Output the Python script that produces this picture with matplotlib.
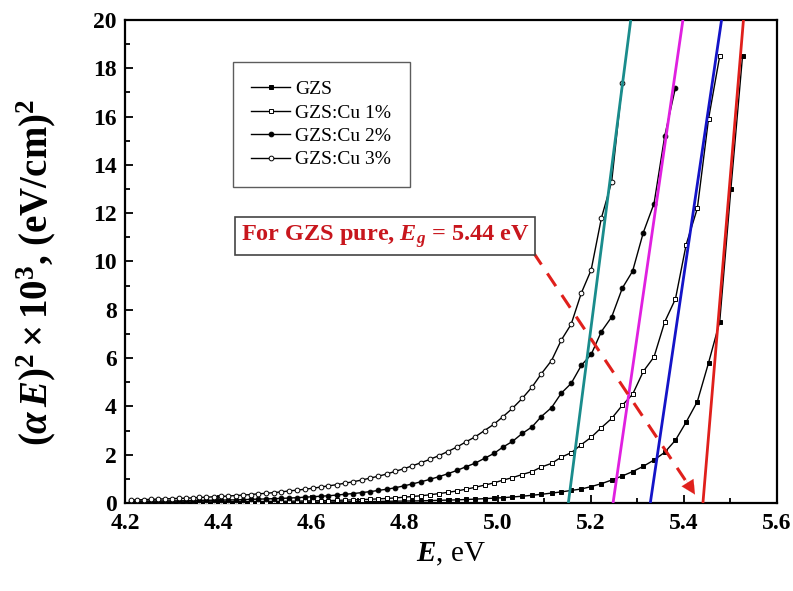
import matplotlib
matplotlib.use('Agg')
import matplotlib.pyplot as plt
from matplotlib.ticker import MultipleLocator, FormatStrFormatter

plt.rcParams['font.family'] = ['Liberation Serif', 'DejaVu Serif']
plt.rcParams['mathtext.fontset'] = 'custom'
plt.rcParams['mathtext.rm'] = 'Liberation Serif:bold'
plt.rcParams['mathtext.it'] = 'Liberation Serif:italic:bold'
plt.rcParams['mathtext.bf'] = 'Liberation Serif:bold'

# ---- data (photon energy grid, eV) ----
energy = [5.526, 5.501, 5.477, 5.453, 5.429, 5.405, 5.382, 5.359, 5.336, 5.313,
          5.290, 5.268, 5.245, 5.223, 5.201, 5.180, 5.158, 5.137, 5.116, 5.094,
          5.074, 5.053, 5.032, 5.012, 4.992, 4.972, 4.952, 4.932, 4.913, 4.893,
          4.874, 4.855, 4.836, 4.817, 4.799, 4.780, 4.762, 4.744, 4.726, 4.708,
          4.690, 4.672, 4.655, 4.637, 4.620, 4.603, 4.586, 4.569, 4.552, 4.536,
          4.519, 4.503, 4.486, 4.470, 4.454, 4.438, 4.422, 4.407, 4.391, 4.375,
          4.360, 4.345, 4.330, 4.315, 4.300, 4.285, 4.270, 4.255, 4.241, 4.226,
          4.212]

gzs = [18.5, 13.0, 7.5, 5.8, 4.2, 3.35, 2.6, 2.1, 1.78, 1.52,
       1.30, 1.12, 0.95, 0.80, 0.68, 0.58, 0.52, 0.46, 0.41, 0.36,
       0.32, 0.28, 0.25, 0.22, 0.20, 0.18, 0.16, 0.145, 0.13, 0.12,
       0.11, 0.10, 0.09, 0.085, 0.08, 0.075, 0.07, 0.065, 0.06, 0.056,
       0.052, 0.049, 0.046, 0.043, 0.04, 0.038, 0.036, 0.034, 0.032, 0.030,
       0.028, 0.026, 0.025, 0.024, 0.023, 0.022, 0.021, 0.020, 0.019, 0.018,
       0.017, 0.016, 0.015, 0.015, 0.014, 0.014, 0.013, 0.013, 0.012, 0.012,
       0.011]

cu1 = [18.5, 15.9, 12.2, 10.7, 8.45, 7.5, 6.05, 5.45,
       4.5, 4.05, 3.5, 3.12, 2.72, 2.42, 2.08, 1.90, 1.64, 1.49,
       1.30, 1.18, 1.05, 0.95, 0.83, 0.74, 0.65, 0.57, 0.50, 0.44,
       0.39, 0.34, 0.30, 0.27, 0.24, 0.21, 0.19, 0.17, 0.155, 0.14,
       0.13, 0.12, 0.11, 0.10, 0.095, 0.09, 0.085, 0.08, 0.075, 0.07,
       0.066, 0.062, 0.06, 0.058, 0.056, 0.054, 0.052, 0.05, 0.049, 0.048,
       0.047, 0.046, 0.045, 0.045, 0.044, 0.043, 0.042, 0.041, 0.041, 0.040,
       0.040]

cu2 = [17.2, 15.2, 12.4, 11.2,
       9.6, 8.9, 7.7, 7.1, 6.15, 5.7, 4.95, 4.55, 3.95, 3.58,
       3.15, 2.88, 2.55, 2.32, 2.05, 1.85, 1.65, 1.50, 1.35, 1.21,
       1.09, 0.98, 0.88, 0.79, 0.71, 0.63, 0.57, 0.52, 0.47, 0.43,
       0.39, 0.36, 0.33, 0.30, 0.28, 0.26, 0.24, 0.22, 0.205, 0.19,
       0.18, 0.17, 0.16, 0.15, 0.14, 0.13, 0.125, 0.12, 0.115, 0.11,
       0.105, 0.10, 0.095, 0.09, 0.088, 0.085, 0.083, 0.08, 0.078, 0.076,
       0.075]

cu3 = [17.4, 13.3, 11.8, 9.65, 8.7, 7.4, 6.75, 5.9, 5.35,
       4.8, 4.33, 3.92, 3.58, 3.26, 3.0, 2.74, 2.53, 2.32, 2.13,
       1.96, 1.81, 1.67, 1.54, 1.42, 1.31, 1.20, 1.11, 1.03, 0.95,
       0.88, 0.82, 0.76, 0.71, 0.66, 0.61, 0.57, 0.53, 0.50, 0.46,
       0.43, 0.40, 0.38, 0.35, 0.33, 0.31, 0.29, 0.27, 0.26, 0.24,
       0.23, 0.21, 0.20, 0.19, 0.18, 0.17, 0.16, 0.15, 0.14, 0.13,
       0.12]

labels = ['GZS', 'GZS:Cu 1%', 'GZS:Cu 2%', 'GZS:Cu 3%']

# linear extrapolation fits: energy at y=0 (Eg) and at y=20
fit_e0 = [5.441, 5.328, 5.248, 5.152]
fit_e20 = [5.528, 5.481, 5.398, 5.286]
fit_colors = ['#e0201c', '#1414c8', '#e020e0', '#1a8c8c']

annot_text = 'For GZS pure, $E_g$ = 5.44 eV'
arrow_start = (5.076, 10.4)
arrow_end = (5.424, 0.35)

fig = plt.figure(figsize=(7.93, 5.91), dpi=100)
ax = fig.add_axes([0.1576, 0.1489, 0.8222, 0.8173])

series = [gzs, cu1, cu2, cu3]
styles = [dict(marker='s', mfc='black'), dict(marker='s', mfc='white'),
          dict(marker='o', mfc='black'), dict(marker='o', mfc='white')]
for vals, lab, st in zip(series, labels, styles):
    n = len(vals)
    xs = energy[len(energy) - n:]
    ax.plot(xs, vals, color='black', lw=1.0, marker=st['marker'], ms=3.4,
            mfc=st['mfc'], mec='black', mew=0.7, label=lab, zorder=3)

for e0, e20, c in zip(fit_e0, fit_e20, fit_colors):
    ax.plot([e0, e20], [0, 20], color=c, lw=2.0, zorder=4, solid_capstyle='butt')

# dashed arrow
red = '#e0201c'
ax.plot([arrow_start[0], 5.403], [arrow_start[1], 0.95], color=red, lw=2.2,
        dashes=(5, 3.5), zorder=5)
ax.annotate('', xy=arrow_end, xytext=(5.398, 1.15),
            arrowprops=dict(arrowstyle='-|>,head_length=1.0,head_width=0.5',
                            color=red, lw=0.1, shrinkA=0, shrinkB=0), zorder=6)

ax.text(4.758, 11.05, annot_text, color='#c8161d', fontsize=17.5, fontweight='bold',
        ha='center', va='center', zorder=7,
        bbox=dict(boxstyle='square,pad=0.22', fc='white', ec='#444444', lw=1.2))

ax.set_xlim(4.2, 5.6)
ax.set_ylim(0, 20)
ax.xaxis.set_major_locator(MultipleLocator(0.2))
ax.xaxis.set_minor_locator(MultipleLocator(0.1))
ax.yaxis.set_major_locator(MultipleLocator(2))
ax.yaxis.set_minor_locator(MultipleLocator(1))
ax.xaxis.set_major_formatter(FormatStrFormatter('%.1f'))
ax.yaxis.set_major_formatter(FormatStrFormatter('%d'))
ax.tick_params(which='both', direction='in', top=False, right=False, width=1.3)
ax.tick_params(which='major', length=6, labelsize=17)
ax.tick_params(axis='x', which='major', pad=7)
ax.tick_params(axis='y', which='major', pad=6)
ax.tick_params(which='minor', length=3.5)
for lbl in ax.get_xticklabels() + ax.get_yticklabels():
    lbl.set_fontweight('bold')
for sp in ax.spines.values():
    sp.set_linewidth(1.6)

ax.set_xlabel('$E$, eV', fontsize=21, labelpad=5)
ax.set_ylabel(r'$(\alpha\,E)^2\times10^3$, (eV/cm)$^2$', fontsize=28,
              fontweight='bold')
ax.yaxis.set_label_coords(-0.103, 0.478)

leg = ax.legend(loc='upper left', bbox_to_anchor=(0.1656, 0.913), fontsize=14,
                frameon=True, fancybox=False, edgecolor='#333333', numpoints=1,
                handlelength=2.0, labelspacing=0.3, borderpad=0.95,
                handletextpad=0.25, borderaxespad=0)
leg.get_frame().set_linewidth(1.0)

fig.savefig('out.png', dpi=100)
